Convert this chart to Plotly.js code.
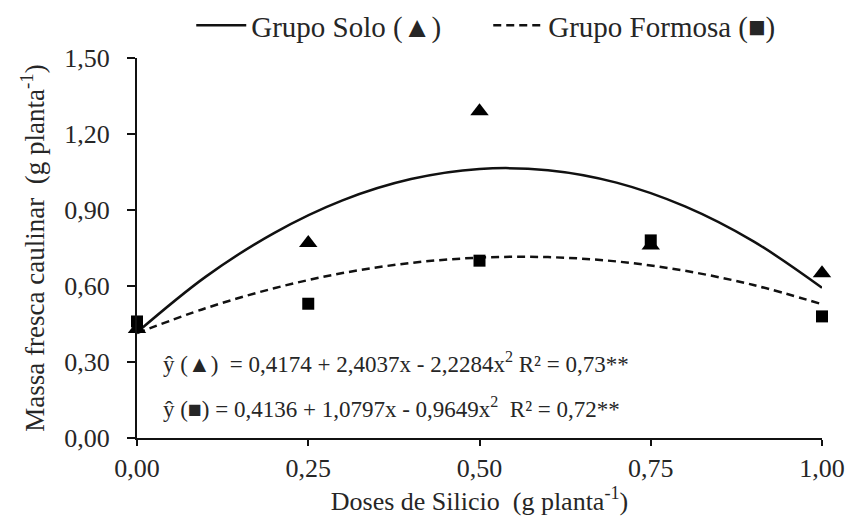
<!DOCTYPE html>
<html>
<head>
<meta charset="utf-8">
<script src="https://cdn.plot.ly/plotly-3.0.1.min.js"></script>
<style>html,body{margin:0;padding:0;background:#fff;}#chart{width:850px;height:525px;}</style>
</head>
<body>
<div id="chart"></div>
<script>
// Observed means
const doses = [0, 0.25, 0.5, 0.75, 1.0];
const soloObs = [0.43, 0.77, 1.29, 0.76, 0.65];
const formosaObs = [0.46, 0.53, 0.70, 0.78, 0.48];

// Fitted curves
const curveX = [0, 0.1, 0.2, 0.3, 0.4, 0.5, 0.6, 0.7, 0.8, 0.9, 1.0];
const soloCurve = [0.417, 0.636, 0.809, 0.938, 1.022, 1.062, 1.057, 1.008, 0.914, 0.776, 0.593];
const formosaCurve = [0.414, 0.512, 0.591, 0.651, 0.691, 0.712, 0.714, 0.697, 0.660, 0.604, 0.528];

const xTickVals = [0, 0.25, 0.5, 0.75, 1.0];
const xTickText = ['0,00', '0,25', '0,50', '0,75', '1,00'];
const yTickVals = [0, 0.3, 0.6, 0.9, 1.2, 1.5];
const yTickText = ['0,00', '0,30', '0,60', '0,90', '1,20', '1,50'];

const seriesNames = ['Grupo Solo (▲)', 'Grupo Formosa (■)'];
const equations = [
  'ŷ (▲)  = 0,4174 + 2,4037x - 2,2284x<sup>2</sup> R² = 0,73**',
  'ŷ (■) = 0,4136 + 1,0797x - 0,9649x<sup>2</sup>  R² = 0,72**'
];

const FONT = '"Liberation Serif", "Times New Roman", serif';
const TXT = '#262626';

const traces = [
  {x: curveX, y: soloCurve, mode: 'lines', line: {color: '#111', width: 2.5, shape: 'spline'}, name: seriesNames[0], showlegend: true},
  {x: curveX, y: formosaCurve, mode: 'lines', line: {color: '#111', width: 2.5, dash: '8px,5px', shape: 'spline'}, name: seriesNames[1], showlegend: true},
  {x: doses, y: soloObs, mode: 'markers', marker: {symbol: 'triangle-up', size: 16, color: '#000'}, showlegend: false, cliponaxis: false},
  {x: doses, y: formosaObs, mode: 'markers', marker: {symbol: 'square', size: 12, color: '#000'}, showlegend: false, cliponaxis: false}
];

const layout = {
  width: 850, height: 525,
  margin: {l: 137, r: 28, t: 58, b: 87, autoexpand: false},
  paper_bgcolor: '#fff', plot_bgcolor: '#fff',
  font: {family: FONT, color: TXT, size: 24},
  showlegend: true,
  legend: {orientation: 'h', xref: 'container', yref: 'container', x: 0.225, xanchor: 'left', y: 1.0, yanchor: 'top',
           font: {family: FONT, size: 29, color: TXT}, bgcolor: 'rgba(0,0,0,0)', itemwidth: 50,
           entrywidth: 232, entrywidthmode: 'pixels', tracegroupgap: 0},
  xaxis: {
    range: [0, 1.0], tickvals: xTickVals, ticktext: xTickText,
    showgrid: false, zeroline: false, showline: true, linecolor: '#111', linewidth: 2,
    ticks: 'outside', ticklen: 6, tickwidth: 2, tickcolor: '#111',
    tickfont: {family: FONT, size: 26, color: TXT},
    title: {text: 'Doses de Silicio  (g planta<sup>-1</sup>)', font: {family: FONT, size: 26, color: TXT}, standoff: 2}
  },
  yaxis: {
    range: [0, 1.5], tickvals: yTickVals, ticktext: yTickText,
    showgrid: false, zeroline: false, showline: true, linecolor: '#111', linewidth: 2,
    ticks: 'outside', ticklen: 8, tickwidth: 2, tickcolor: '#111', ticklabelstandoff: 12,
    tickfont: {family: FONT, size: 26, color: TXT},
    title: {text: 'Massa fresca caulinar  (g planta<sup>-1</sup>)', font: {family: FONT, size: 27, color: TXT}, standoff: 12}
  },
  annotations: [
    {x: 0.035, y: 0.30, xref: 'x', yref: 'y', xanchor: 'left', yanchor: 'middle', showarrow: false,
     text: equations[0], font: {family: FONT, size: 23, color: TXT}},
    {x: 0.035, y: 0.12, xref: 'x', yref: 'y', xanchor: 'left', yanchor: 'middle', showarrow: false,
     text: equations[1], font: {family: FONT, size: 23, color: TXT}}
  ]
};

Plotly.newPlot('chart', traces, layout, {displayModeBar: false, staticPlot: true});
</script>
</body>
</html>
